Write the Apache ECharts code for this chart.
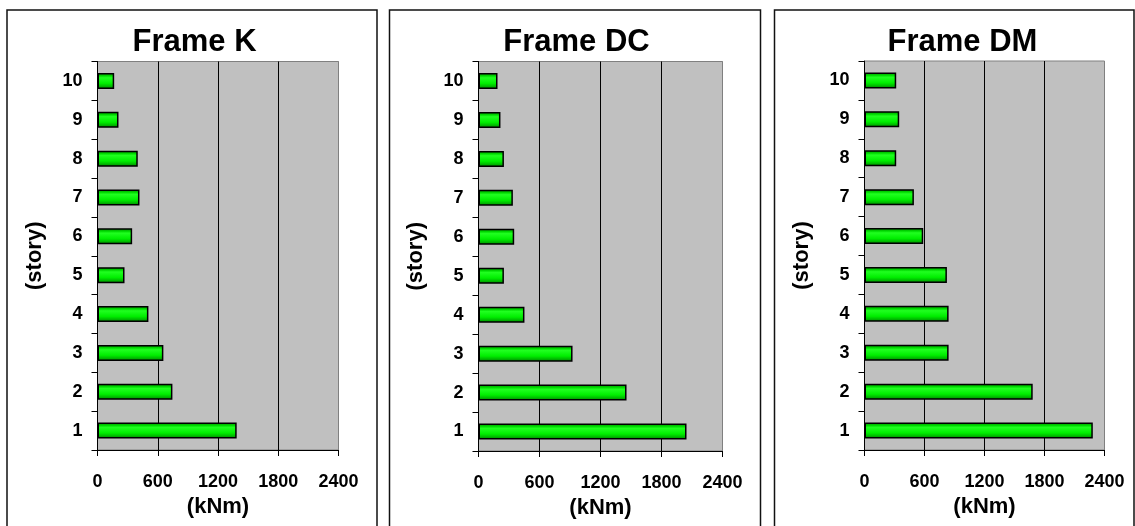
<!DOCTYPE html>
<html>
<head>
<meta charset="utf-8">
<script src="https://cdn.jsdelivr.net/npm/echarts@6/dist/echarts.min.js"></script>
<style>
html,body{margin:0;padding:0;background:#fff;}
#chart{width:1135px;height:526px;}
</style>
</head>
<body>
<div id="chart"></div>
<script>
// ---- data ----
var stories = ['1','2','3','4','5','6','7','8','9','10'];
var frameK  = [1386, 746, 656, 507, 269, 345, 418, 401, 209, 166];
var frameDC = [2046, 1456, 925, 452, 250, 351, 338, 250, 216, 187];
var frameDM = [2283, 1682, 841, 841, 824, 587, 494, 317, 347, 317];
var titles = ['Frame K', 'Frame DC', 'Frame DM'];
var xTicks = [0, 600, 1200, 1800, 2400];
var xName = '(kNm)';
var yName = '(story)';

var FONT = "'Liberation Sans', Arial, sans-serif";
var seriesData = [frameK, frameDC, frameDM];
var grids = [
  {left: 97.5, top: 61.5, width: 241, height: 388.5},
  {left: 478.5, top: 61.5, width: 244, height: 389.5},
  {left: 864.5, top: 61, width: 240, height: 389}
];
var titleCenters = [189.5, 571.5, 957.5];
var panels = [[7, 370], [389.5, 371], [774.5, 359.5]];

var barColor = new echarts.graphic.LinearGradient(0, 0, 0, 1, [
  {offset: 0, color: '#009000'},
  {offset: 0.18, color: '#00d800'},
  {offset: 0.3, color: '#20ff20'},
  {offset: 0.65, color: '#00ee00'},
  {offset: 0.85, color: '#00b400'},
  {offset: 1, color: '#007000'}
]);

var option = {
  animation: false,
  backgroundColor: '#ffffff',
  title: titles.map(function (t, i) {
    return {
      text: t, left: titleCenters[i], top: 22, textAlign: 'center',
      textStyle: {fontFamily: FONT, fontWeight: 'bold', fontSize: 31, color: '#000'}
    };
  }),
  grid: grids.map(function (g) {
    return {left: g.left, top: g.top, width: g.width, height: g.height,
      show: true, backgroundColor: '#c0c0c0', borderColor: '#808080', borderWidth: 1,
      containLabel: false};
  }),
  xAxis: grids.map(function (g, i) {
    return {
      type: 'value', gridIndex: i, min: xTicks[0], max: xTicks[xTicks.length - 1],
      interval: xTicks[1] - xTicks[0],
      name: xName, nameLocation: 'middle', nameGap: 46,
      nameTextStyle: {fontFamily: FONT, fontWeight: 'bold', fontSize: 22, color: '#000'},
      axisLine: {show: true, lineStyle: {color: '#000', width: 1}},
      axisTick: {show: true, length: 6, inside: false, lineStyle: {color: '#000'}},
      axisLabel: {margin: 23, fontFamily: FONT, fontWeight: 'bold', fontSize: 18, color: '#000',
        formatter: function (v) { return String(v); }},
      splitLine: {show: true, lineStyle: {color: ['#808080', '#000', '#000', '#000', '#808080'], width: 1}}
    };
  }),
  yAxis: grids.map(function (g, i) {
    return {
      type: 'category', gridIndex: i, data: stories,
      name: yName, nameLocation: 'middle', nameGap: 52, nameRotate: 90,
      nameTextStyle: {fontFamily: FONT, fontWeight: 'bold', fontSize: 22, color: '#000'},
      axisLine: {show: true, lineStyle: {color: '#000', width: 1}},
      axisTick: {show: true, length: 6, inside: false, lineStyle: {color: '#000'}},
      axisLabel: {margin: 15, fontFamily: FONT, fontWeight: 'bold', fontSize: 18, color: '#000'},
      splitLine: {show: false}
    };
  }),
  series: seriesData.map(function (d, i) {
    return {
      type: 'bar', xAxisIndex: i, yAxisIndex: i, data: d, barWidth: 16,
      itemStyle: {color: barColor, borderColor: '#000', borderWidth: 1.5}
    };
  }),
  graphic: panels.map(function (p) {
    return {
      type: 'rect', silent: true, z: 100,
      shape: {x: p[0], y: 10, width: p[1], height: 540},
      style: {fill: 'none', stroke: '#111', lineWidth: 1.5}
    };
  })
};

var chart = echarts.init(document.getElementById('chart'), null, {renderer: 'canvas'});
chart.setOption(option);
</script>
</body>
</html>
